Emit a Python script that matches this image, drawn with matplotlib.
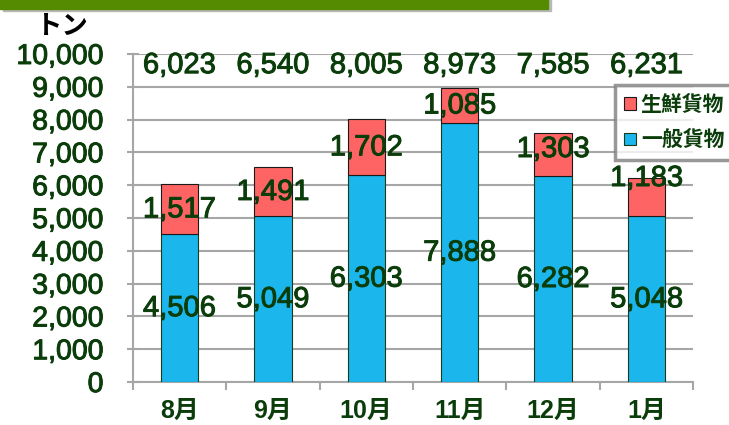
import numpy as np
import matplotlib.pyplot as plt
import matplotlib.patheffects as pe
from matplotlib.patches import Rectangle

plt.rcParams['font.family'] = ['Liberation Sans', 'Noto Sans CJK JP', 'DejaVu Sans']

months = ['8月', '9月', '10月', '11月', '12月', '1月']
general = [4506, 5049, 6303, 7888, 6282, 5048]   # 一般貨物
fresh = [1517, 1491, 1702, 1085, 1303, 1183]     # 生鮮貨物
totals = [6023, 6540, 8005, 8973, 7585, 6231]
# ラベルの上下ずらし（重なり回避）
fresh_shift = [0, 0, 0, 0, 170, 580]

txt_col = '#0b3d0b'
blue = '#1ab6ec'
red = '#ff6464'
grid_col = '#a6a6a6'
thick = [pe.withStroke(linewidth=0.7, foreground=txt_col)]

fig = plt.figure(figsize=(7.29, 4.25), dpi=100)
ax = fig.add_axes([0.182, 0.101, 0.769, 0.772])

x = np.arange(len(months))
w = 0.4
ax.bar(x, general, w, color=blue, edgecolor='#1a3a1a', linewidth=0.8, zorder=3, label='一般貨物')
ax.bar(x, fresh, w, bottom=general, color=red, edgecolor='#1a1a1a', linewidth=0.8, zorder=3, label='生鮮貨物')

for i in range(len(months)):
    ax.text(x[i], general[i] / 2, f'{general[i]:,}', ha='center', va='center',
            fontsize=21, color=txt_col, zorder=5, path_effects=thick)
    ax.text(x[i], general[i] + fresh[i] / 2 + fresh_shift[i], f'{fresh[i]:,}', ha='center',
            va='center', fontsize=21, color=txt_col, zorder=5, path_effects=thick)
    ax.text(x[i], 9660, f'{totals[i]:,}', ha='center', va='center',
            fontsize=21, color=txt_col, zorder=5, path_effects=thick)

ax.set_xlim(-0.5, len(months) - 0.5)
ax.set_ylim(0, 10000)
ax.set_yticks(np.arange(0, 10001, 1000))
ax.set_yticklabels([f'{v:,}' for v in range(0, 10001, 1000)], fontsize=20.5, color=txt_col)
for t in ax.get_yticklabels():
    t.set_path_effects(thick)
ax.yaxis.grid(True, color=grid_col, linewidth=1.5, zorder=0)
ax.set_axisbelow(True)

ax.set_xticks(x)
ax.set_xticklabels(months, fontsize=18, fontweight='bold', color=txt_col)
ax.set_xticks(np.arange(-0.5, len(months)), minor=True)
ax.tick_params(axis='x', which='major', length=0, pad=12)
ax.tick_params(axis='x', which='minor', length=6, width=1.5, color=grid_col, direction='out')
ax.tick_params(axis='y', length=8, width=1.5, color=grid_col, direction='inout', pad=17)

for s in ['top', 'right']:
    ax.spines[s].set_visible(False)
for s in ['left', 'bottom']:
    ax.spines[s].set_color(grid_col)
    ax.spines[s].set_linewidth(1.5)

h, l = ax.get_legend_handles_labels()
leg = ax.legend(h[::-1], l[::-1], loc='upper left', bbox_to_anchor=(0.86, 0.905),
                prop={'size': 15, 'weight': 'bold'}, frameon=True, fancybox=False,
                handlelength=0.55, handleheight=0.55, handletextpad=0.25,
                borderpad=0.45, labelspacing=0.75, borderaxespad=0)
leg.get_frame().set_edgecolor('#7f7f7f')
leg.get_frame().set_linewidth(2.5)
for t in leg.get_texts():
    t.set_color(txt_col)
leg.set_zorder(6)

# 上部の緑の帯
fig.patches.append(Rectangle((0.004, 0.973), 0.752, 0.03, transform=fig.transFigure,
                             color='#b8b8b8', zorder=0))
fig.patches.append(Rectangle((0, 0.980), 0.752, 0.03, transform=fig.transFigure,
                             color='#548b00', zorder=1))

fig.text(0.05, 0.92, 'トン', fontsize=19, fontweight='bold', color='black',
         va='baseline', zorder=5)

fig.savefig('out.png', dpi=100)
